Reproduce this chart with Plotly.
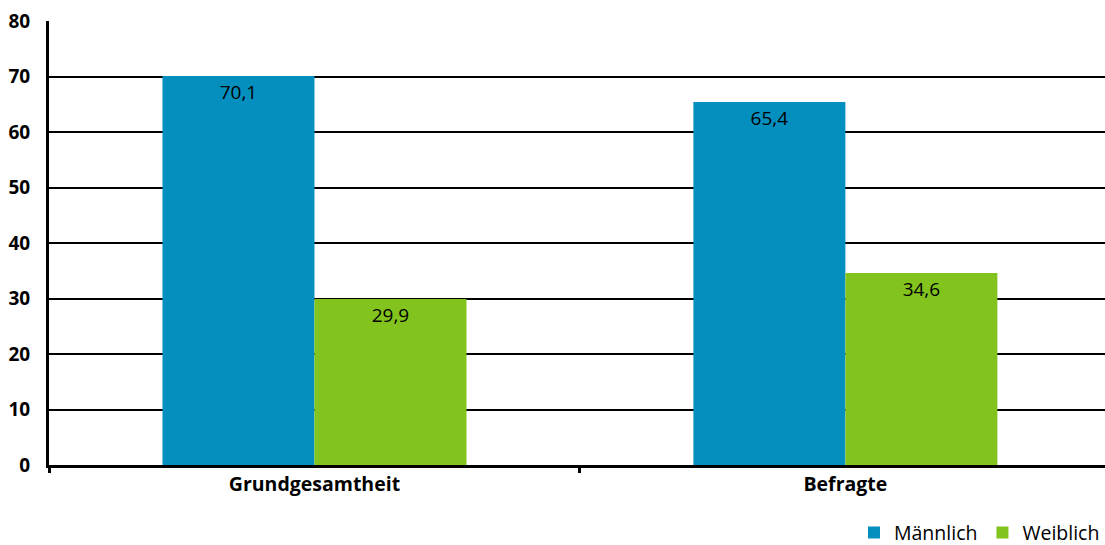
import plotly.graph_objects as go

categories = ["Grundgesamtheit", "Befragte"]
maennlich = [70.1, 65.4]
weiblich = [29.9, 34.6]
y_ticks = [0, 10, 20, 30, 40, 50, 60, 70, 80]

def de(v):
    return f"{v:.1f}".replace(".", ",")

FONT = "Open Sans"
fig = go.Figure()
fig.add_trace(go.Bar(
    x=categories, y=maennlich, name="Männlich",
    marker=dict(color="#058FBF", line=dict(width=0)),
    text=[de(v) for v in maennlich], textposition="inside",
    insidetextanchor="end", textangle=0,
    textfont=dict(family=FONT, size=19, color="black"),
))
fig.add_trace(go.Bar(
    x=categories, y=weiblich, name="Weiblich",
    marker=dict(color="#82C31E", line=dict(width=0)),
    text=[de(v) for v in weiblich], textposition="inside",
    insidetextanchor="end", textangle=0,
    textfont=dict(family=FONT, size=19, color="black"),
))

fig.update_layout(
    width=1105, height=545,
    margin=dict(l=49, r=0, t=21, b=80, autoexpand=False),
    plot_bgcolor="white", paper_bgcolor="white",
    barmode="group", bargap=0.4274, bargroupgap=0,
    showlegend=True,
    legend=dict(orientation="h", x=1.0, xanchor="right", y=-0.153, yanchor="middle",
                font=dict(family=FONT, size=19.5, color="black"),
                itemwidth=30, traceorder="normal"),
    font=dict(family=FONT, color="black"),
)
fig.update_xaxes(
    range=[-0.5, 1.489],
    showline=True, linecolor="black", linewidth=3,
    ticks="outside", tickson="boundaries", ticklen=5, tickwidth=3, tickcolor="black",
    tickfont=dict(family=FONT, size=19.5, color="black", weight="bold"),
    showgrid=False,
)
fig.update_yaxes(
    range=[0, 80], tickvals=y_ticks,
    showline=True, linecolor="black", linewidth=3,
    showgrid=True, gridcolor="black", gridwidth=2,
    zeroline=False,
    tickfont=dict(family=FONT, size=19, color="black", weight="bold"),
    ticks="", ticklabelstandoff=12,
)
fig.write_html(
    "out.html",
    config={"displayModeBar": False},
    post_script="document.body.style.margin='0';document.body.style.overflow='hidden';",
)
